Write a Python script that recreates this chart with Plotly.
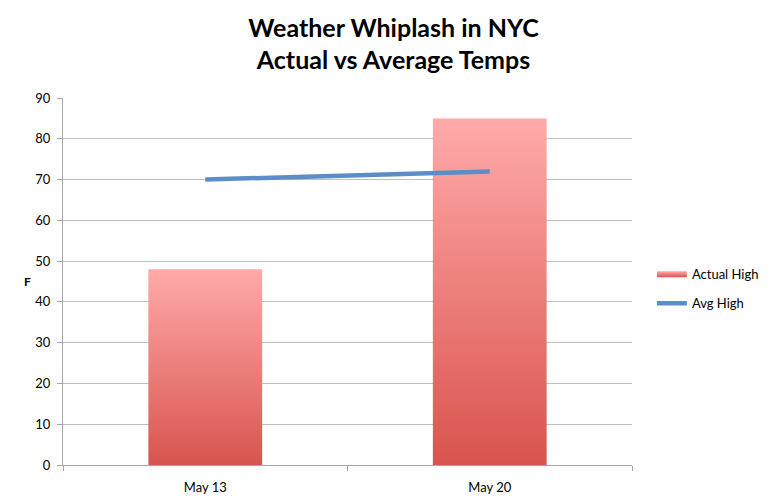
import plotly.graph_objects as go

# data
dates = ["May 13", "May 20"]
actual_high = [48, 85]
avg_high = [70, 72]

BAR_TOP = "#FFAAAA"
BAR_BOTTOM = "#D9544E"
LINE_COLOR = "#5B8EC6"
GRID = "#BFBFBF"
AXIS = "#A6A6A6"
FONT = "Lato"
half = 0.2  # half bar width, in category units

fig = go.Figure()

# bars drawn as filled shapes so they can carry a vertical gradient
for i, v in enumerate(actual_high):
    fig.add_trace(go.Scatter(
        x=[i - half, i + half, i + half, i - half, i - half],
        y=[0, 0, v, v, 0],
        mode="none",
        fill="toself",
        fillgradient=dict(type="vertical",
                          colorscale=[[0, BAR_BOTTOM], [1, BAR_TOP]]),
        name="Actual High",
        legendgroup="actual",
        showlegend=(i == 0),
        hoverinfo="skip",
    ))

fig.add_trace(go.Scatter(
    x=list(range(len(dates))), y=avg_high,
    mode="lines",
    line=dict(color=LINE_COLOR, width=4.5),
    name="Avg High",
    legendgroup="avg",
))

# page body has an 8px margin, so the figure is sized to fit inside it
fig.update_layout(
    width=771, height=493,
    margin=dict(l=55, r=147, t=90, b=36),
    paper_bgcolor="white", plot_bgcolor="white",
    font=dict(family=FONT, size=13, color="black"),
    title=dict(text="<b>Weather Whiplash in NYC<br>Actual vs Average Temps</b>",
               x=0.5, xanchor="center", y=0.942, yanchor="middle",
               font=dict(family=FONT, size=25, color="black")),
    legend=dict(x=1.035, xanchor="left", y=0.48, yanchor="middle",
                font=dict(size=13), tracegroupgap=9,
                bgcolor="rgba(0,0,0,0)"),
    showlegend=True,
)

fig.update_xaxes(
    range=[-0.5, len(dates) - 0.5],
    tickvals=list(range(len(dates))), ticktext=dates,
    ticks="", showgrid=False, zeroline=False,
    showline=True, linecolor=AXIS, linewidth=1,
    minor=dict(tick0=0.5, dtick=1, ticks="outside", ticklen=5,
               tickcolor=AXIS, showgrid=False),
    tickfont=dict(size=13), ticklabelstandoff=10,
    automargin=False,
)
fig.update_yaxes(
    range=[0, 90], dtick=10,
    showgrid=True, gridcolor=GRID, gridwidth=1,
    zeroline=False,
    showline=True, linecolor=AXIS, linewidth=1,
    ticks="outside", ticklen=5, tickcolor=AXIS,
    tickfont=dict(size=13), ticklabelstandoff=4,
    automargin=False,
)

fig.add_annotation(text="<b>F</b>", xref="paper", yref="paper",
                   x=-0.072, y=0.5, showarrow=False,
                   font=dict(family=FONT, size=12, color="black"))

fig.write_html("out.html")
